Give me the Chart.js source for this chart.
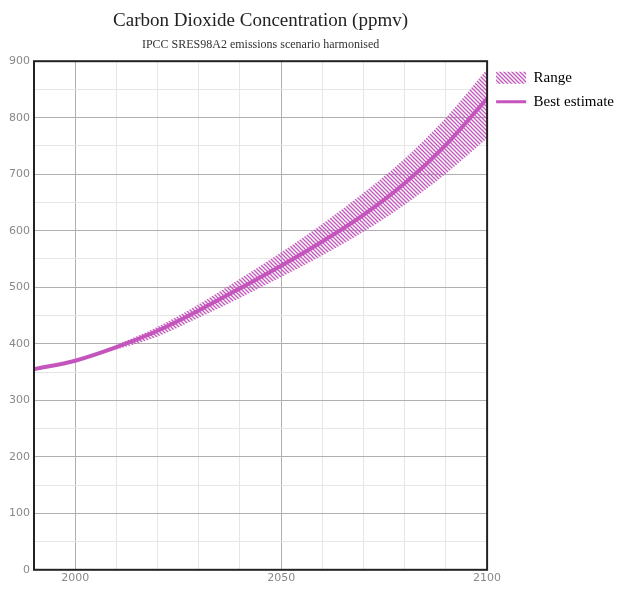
<!DOCTYPE html>
<html>
<head>
<meta charset="utf-8">
<script src="https://cdn.jsdelivr.net/npm/chart.js@4"></script>
<style>
  html, body { margin: 0; padding: 0; background: #fff; }
  #wrap { width: 624px; height: 590px; }
</style>
</head>
<body>
<div id="wrap"><canvas id="myChart" width="624" height="590"></canvas></div>
<script>
const years = [1990, 2000, 2010, 2020, 2030, 2040, 2050, 2060, 2070, 2080, 2090, 2100];
const bestEstimate = [355, 370, 394, 423, 459, 498, 538, 581, 628, 684, 752, 834];
const rangeHigh = [355, 371, 398, 430, 470, 515, 562, 612, 667, 728, 800, 886];
const rangeLow = [355, 369, 390, 413, 446, 481, 518, 556, 598, 646, 701, 763];
const xLabels = [2000, 2050, 2100];

const purple = "#c455bd";

// diagonal hatch used for the range band
function hatch(color) {
  let c = document.createElement("canvas");
  c.width = 4;
  c.height = 4;
  let g = c.getContext("2d");
  g.strokeStyle = color;
  g.lineWidth = 1.3;
  g.beginPath();
  g.moveTo(0, 0); g.lineTo(4, 4);
  g.moveTo(-1, 3); g.lineTo(1, 5);
  g.moveTo(3, -1); g.lineTo(5, 1);
  g.stroke();
  return g.createPattern(c, "repeat");
}
const hatchFill = hatch(purple);

const pts = (vals) => years.map((y, i) => ({ x: y, y: vals[i] }));

// black frame round the plot area
const frame = {
  id: "frame",
  afterDraw(chart) {
    const a = chart.chartArea;
    const ctx = chart.ctx;
    ctx.save();
    ctx.strokeStyle = "#222";
    ctx.lineWidth = 2;
    ctx.strokeRect(a.left, a.top, a.right - a.left, a.bottom - a.top);
    ctx.restore();
  },
};

let ctx = document.getElementById("myChart").getContext("2d");
let myChart = new Chart(ctx, {
  type: "line",
  data: {
    datasets: [
      {
        label: "Range",
        data: pts(rangeHigh),
        borderWidth: 0,
        borderColor: "transparent",
        backgroundColor: hatchFill,
        fill: "+1",
        pointRadius: 0,
        cubicInterpolationMode: "monotone",
      },
      {
        label: "low",
        data: pts(rangeLow),
        borderWidth: 0,
        borderColor: "transparent",
        pointRadius: 0,
        fill: false,
        cubicInterpolationMode: "monotone",
      },
      {
        label: "Best estimate",
        data: pts(bestEstimate),
        borderColor: purple,
        borderWidth: 4,
        pointRadius: 0,
        fill: false,
        cubicInterpolationMode: "monotone",
      },
    ],
  },
  options: {
    responsive: false,
    animation: false,
    layout: { padding: { left: 5, right: 0, bottom: 3 } },
    plugins: {
      title: {
        display: true,
        fullSize: false,
        text: "Carbon Dioxide Concentration (ppmv)",
        color: "#222",
        font: { family: "Liberation Serif", size: 19, weight: "normal" },
        padding: { top: 10, bottom: 2 },
      },
      subtitle: {
        display: true,
        fullSize: false,
        text: "IPCC SRES98A2 emissions scenario harmonised",
        color: "#333",
        font: { family: "Liberation Serif", size: 12 },
        padding: { top: 3, bottom: 9 },
      },
      legend: {
        position: "right",
        align: "start",
        fullSize: false,
        labels: {
          usePointStyle: true,
          pointStyleWidth: 30,
          boxHeight: 12,
          padding: 9,
          color: "#111",
          font: { family: "Liberation Serif", size: 15 },
          generateLabels: () => [
            { text: "Range", fillStyle: hatchFill, strokeStyle: "transparent", lineWidth: 0, pointStyle: "rect" },
            { text: "Best estimate", fillStyle: purple, strokeStyle: purple, lineWidth: 3, pointStyle: "line" },
          ],
        },
      },
      tooltip: { enabled: false },
    },
    scales: {
      x: {
        type: "linear",
        min: 1990,
        max: 2100,
        border: { display: false },
        grid: {
          drawTicks: false,
          color: (c) => (c.tick && (c.tick.value === 2000 || c.tick.value === 2050) ? "#b0b0b0" : "#e6e6e6"),
        },
        ticks: {
          stepSize: 10,
          autoSkip: false,
          maxRotation: 0,
          padding: 2,
          color: "#888",
          font: { family: "DejaVu Sans", size: 11 },
          callback: (v) => (xLabels.includes(v) ? String(v) : ""),
        },
      },
      y: {
        min: 0,
        max: 900,
        border: { display: false },
        grid: {
          drawTicks: false,
          color: (c) => (c.tick && c.tick.value % 100 === 0 ? "#b0b0b0" : "#e6e6e6"),
        },
        ticks: {
          stepSize: 50,
          autoSkip: false,
          padding: 4,
          color: "#888",
          font: { family: "DejaVu Sans", size: 11 },
          callback: (v) => (v % 100 === 0 ? String(v) : ""),
        },
      },
    },
  },
  plugins: [frame],
});
</script>
</body>
</html>
